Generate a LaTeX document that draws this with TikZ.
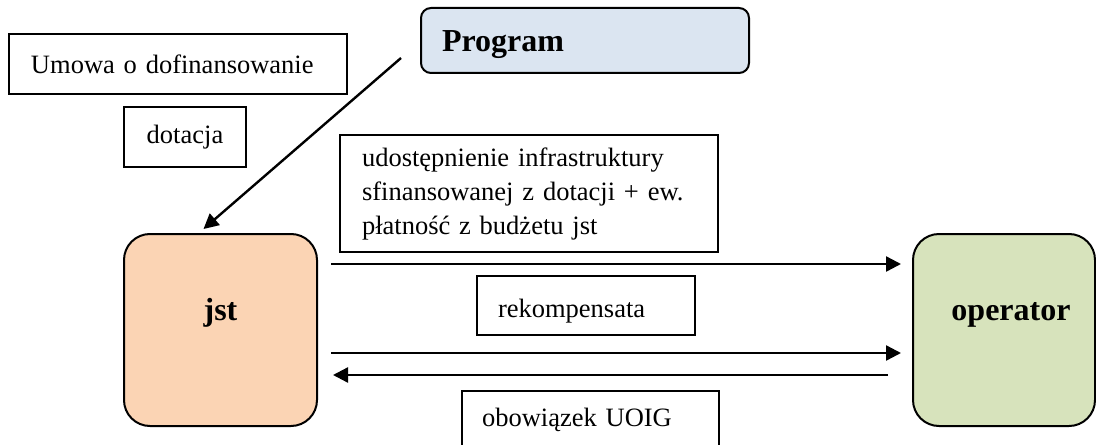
\documentclass[tikz,border=0pt]{standalone}
\usepackage{fontspec}
\setmainfont{Liberation Serif}
\usetikzlibrary{arrows.meta}
\definecolor{progfill}{HTML}{DBE5F1}
\definecolor{jstfill}{HTML}{FBD4B4}
\definecolor{opfill}{HTML}{D7E3BC}
\tikzset{
  txt/.style={font=\fontsize{13.25}{17}\selectfont},
  bigtxt/.style={font=\fontsize{16}{19}\selectfont\bfseries},
  lbox/.style={draw, line width=1pt, txt, align=left, inner ysep=0pt},
  cbox/.style={draw, line width=1pt, txt, inner sep=0pt},
  party/.style={draw, line width=1pt, rounded corners=13pt, bigtxt,
    minimum height=96pt, text height=11pt, text depth=21pt},
  arr/.style={line width=1.2pt, -{Triangle[length=7.5pt,width=7.5pt]}}
}
\begin{document}
\begin{tikzpicture}[x=0.5pt,y=-0.5pt]
  \clip (0,0) rectangle (1096,444);

  % source of funding
  \node[draw, line width=1pt, rounded corners=5pt, fill=progfill, bigtxt,
        align=left, inner xsep=10.5pt, text width=143pt, minimum height=32.5pt,
        text height=15pt, text depth=3.5pt]
        (prog) at (585,40.5) {Program};

  % labels of the funding relation
  \node[lbox, minimum height=30pt, inner xsep=11pt, text width=147pt]
        (umowa) at (178,64) {Umowa o dofinansowanie};
  \node[cbox, minimum width=61pt, minimum height=30pt]
        (dot) at (185,137) {dotacja};

  % the two parties
  \node[party, fill=jstfill, minimum width=96.5pt] (jst) at (220.5,330) {jst};
  \node[party, fill=opfill, minimum width=91pt] (op) at (1004,330) {\hspace*{7pt}operator};

  % labels of the flows between the parties
  \node[lbox, minimum height=58.5pt, inner xsep=11pt, text width=167pt]
        (udost) at (529,193.5)
        {udostępnienie infrastruktury\\ sfinansowanej z dotacji + ew.\\ płatność z budżetu jst};
  \node[lbox, minimum height=29.5pt, inner xsep=10.5pt, text width=88pt,
        text height=14.5pt, text depth=3pt]
        (rek) at (586,305.5) {rekompensata};
  \node[lbox, anchor=north west, inner xsep=10pt, inner ysep=3pt, text width=108.5pt,
        text height=14.5pt, text depth=22pt]
        (obow) at (461,390) {obowiązek UOIG};

  % flows
  \draw[arr] ([shift={(-19,17.5)}]prog.west) -- ([shift={(-17,-4)}]jst.north);
  \draw[arr] ([shift={(13,-66)}]jst.east) -- ([shift={(-11,-66)}]op.west);
  \draw[arr] ([shift={(13,23)}]jst.east) -- ([shift={(-11,23)}]op.west);
  \draw[arr] ([shift={(-24,45)}]op.west) -- ([shift={(15,45)}]jst.east);
\end{tikzpicture}
\end{document}
